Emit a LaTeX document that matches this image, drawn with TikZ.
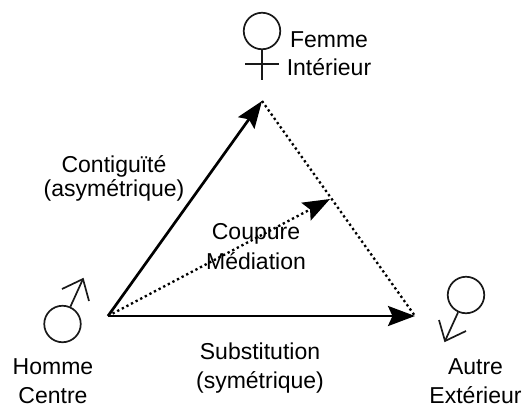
\documentclass[tikz,border=0pt]{standalone}
\usepackage{xcolor}
\usepackage{fontspec}
\setmainfont{Liberation Sans}
\usetikzlibrary{calc,arrows.meta,positioning}
\tikzset{
  label/.style={align=center, inner sep=0pt, anchor=base, text=black, font=\fontsize{23}{28.5}\selectfont},
  symb/.style={circle, draw=black!90, line width=1.7pt, minimum size=36.5pt, inner sep=0pt},
  sign/.style={draw=black!90, line width=1.7pt},
  solidarrow/.style={draw=black, line width=2.7pt, -{Stealth[length=27pt,width=20pt,inset=4.5pt]}},
  dotarrow/.style={draw=black, line width=2.3pt, dash pattern=on 2.3pt off 2.9pt, -{Stealth[length=27pt,width=20pt,inset=4.5pt]}},
  dotline/.style={draw=black, line width=2.3pt, dash pattern=on 2.3pt off 2.9pt}
}
\begin{document}
\begin{tikzpicture}[x=1pt,y=-1pt]
	\useasboundingbox (0,0) rectangle (523,405);
	% sommets
	\coordinate (centre) at (108,316);
	\coordinate (haut) at (262,101);
	\coordinate (droite) at (415,316);
	\coordinate (milieu) at (330,199);
	% fleches
	\draw[dotline] (haut) -- (droite);
	\draw[dotarrow] (centre) -- (milieu);
	\draw[solidarrow] (centre) -- (haut);
	\draw[solidarrow] (centre) -- (droite);
	% femme
	\node[symb] (femme) at (262,31) {};
	\coordinate (femmebas) at (262,80);
	\coordinate (crossg) at (245,64);
	\coordinate (crossd) at (279,64);
	\draw[sign] (femme) -- (femmebas);
	\draw[sign] (crossg) -- (crossd);
	% homme
	\node[symb] (homme) at (62.5,324) {};
	\coordinate (hommetip) at (83,279);
	\coordinate (hommeg) at (62,289);
	\coordinate (hommed) at (89,301);
	\draw[sign] (homme) -- (hommetip);
	\draw[sign,line join=miter] (hommeg) -- (hommetip) -- (hommed);
	% autre
	\node[symb] (autre) at (466,295) {};
	\coordinate (autretip) at (445,341);
	\coordinate (autreg) at (439,320);
	\coordinate (autred) at (466,331);
	\draw[sign] (autre) -- (autretip);
	\draw[sign,line join=miter] (autreg) -- (autretip) -- (autred);
	% textes
	\node[label] (femmetxt) at (329,75.5) {Femme\\Intérieur};
	\node[label] (contig) at (114,196) {Contiguïté\\[-4.5pt](asymétrique)};
	\node[label] (coupure) at (256,269) {Coupure\\[1.5pt]Médiation};
	\node[label] (hommetxt) at (53,403) {Homme\\Centre};
	\node[label] (subst) at (260,388) {Substitution\\(symétrique)};
	\node[label] (autretxt) at (475.5,403) {Autre\\Extérieur};
\end{tikzpicture}
\end{document}
